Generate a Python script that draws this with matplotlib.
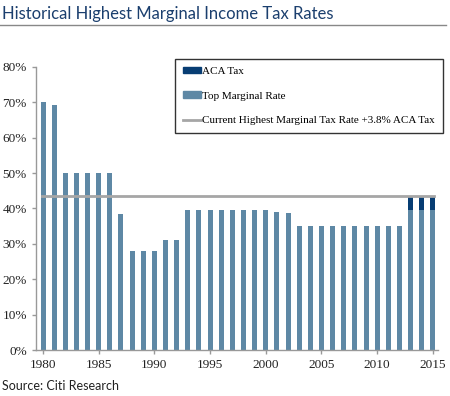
import numpy as np
import matplotlib
matplotlib.use('Agg')
import matplotlib.pyplot as plt
from matplotlib.lines import Line2D
from matplotlib.patches import Patch
from matplotlib.ticker import MultipleLocator, PercentFormatter

# data
years = list(range(1980, 2016))
top_rate = [70, 69.13, 50, 50, 50, 50, 50, 38.5, 28, 28, 28, 31, 31,
            39.6, 39.6, 39.6, 39.6, 39.6, 39.6, 39.6, 39.6, 39.1, 38.6,
            35, 35, 35, 35, 35, 35, 35, 35, 35, 35,
            39.6, 39.6, 39.6]
aca_tax = [0] * 33 + [3.8, 3.8, 3.8]
current_rate = 43.4

bar_col = '#5E88A5'
aca_col = '#073D73'
line_col = '#A6A6A6'

fig = plt.figure(figsize=(4.5, 3.96), dpi=100)
ax = fig.add_axes([0.08, 0.116, 0.893, 0.715])

ax.bar(years, top_rate, width=0.45, color=bar_col, label='Top Marginal Rate')
ax.bar(years, aca_tax, width=0.45, bottom=top_rate, color=aca_col, label='ACA Tax')
ax.plot([1979.9, 2015.1], [current_rate, current_rate], color=line_col, lw=2,
        label='Current Highest Marginal Tax Rate +3.8% ACA Tax')

ax.set_xlim(1979.37, 2015.45)
ax.set_ylim(0, 80)
ax.yaxis.set_major_locator(MultipleLocator(10))
ax.yaxis.set_major_formatter(PercentFormatter(decimals=0))
ax.xaxis.set_major_locator(MultipleLocator(5))

for s in ['top', 'right']:
    ax.spines[s].set_visible(False)
for s in ['left', 'bottom']:
    ax.spines[s].set_color('#999999')
    ax.spines[s].set_linewidth(1)
ax.tick_params(axis='both', colors='#999999', length=3, width=1,
               labelcolor='#222222', labelsize=9.5)
for lab in ax.get_xticklabels() + ax.get_yticklabels():
    lab.set_family('Liberation Serif')

handles = [Patch(color=aca_col), Patch(color=bar_col),
           Line2D([0], [0], color=line_col, lw=2)]
labels = ['ACA Tax', 'Top Marginal Rate',
          'Current Highest Marginal Tax Rate +3.8% ACA Tax']
leg = ax.legend(handles, labels, loc='upper left',
                bbox_to_anchor=(0.346, 0.788, 0.666, 0.24), mode='expand',
                frameon=True, fancybox=False, borderaxespad=0,
                prop={'family': 'Liberation Serif', 'size': 8},
                handlelength=1.6, handleheight=0.5, handletextpad=0.1,
                labelspacing=1.4, borderpad=0.7)
leg.get_frame().set_edgecolor('#333333')
leg.get_frame().set_linewidth(1)
leg.get_frame().set_alpha(1)

fig.text(0.004, 0.965, 'Historical Highest Marginal Income Tax Rates',
         fontsize=12, color='#1B3F6E', family='Lato', va='center', ha='left')
fig.add_artist(Line2D([0, 0.99], [0.937, 0.937], color='#888888', lw=1))
fig.text(0.004, 0.026, 'Source: Citi Research', fontsize=9, color='#222222',
         family='Lato', va='center', ha='left')

fig.savefig('out.png', dpi=100)
